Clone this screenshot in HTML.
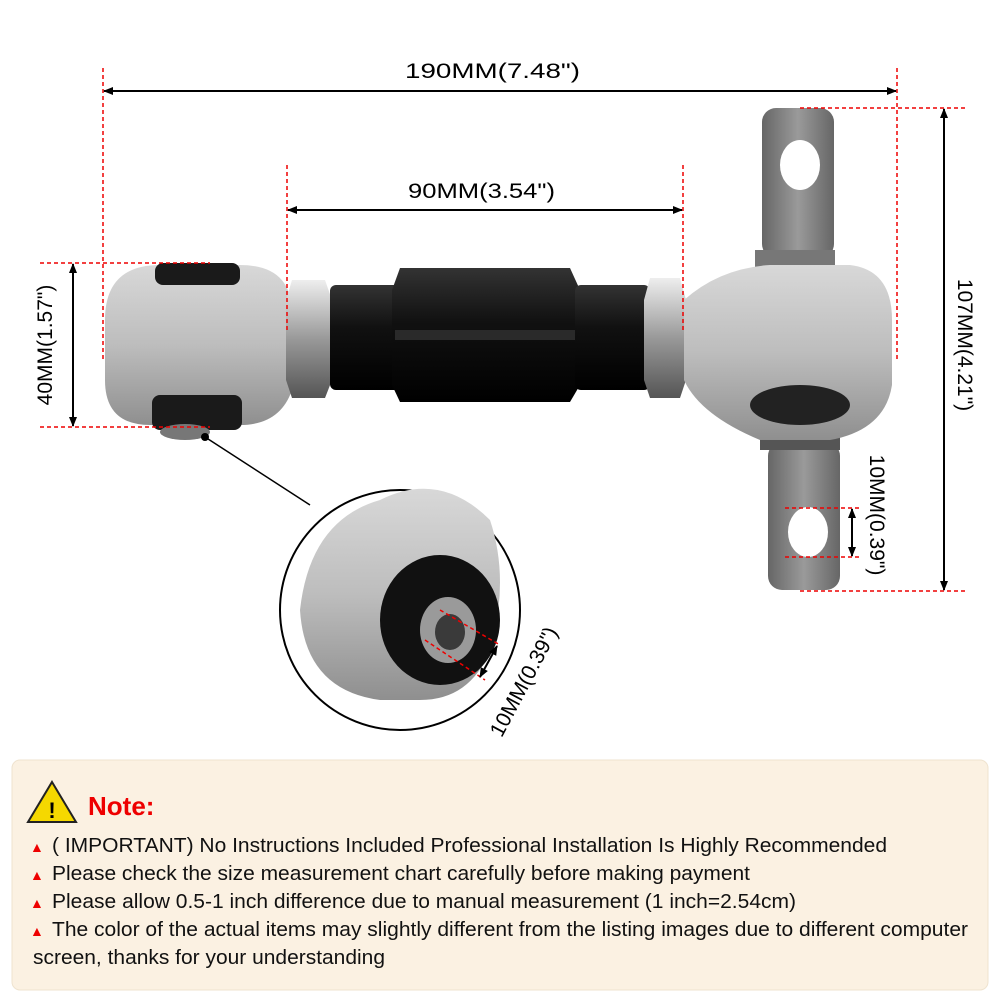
<!DOCTYPE html>
<html><head><meta charset="utf-8"><style>
html,body{margin:0;padding:0;background:#fff;}
svg{display:block;font-family:"Liberation Sans",Arial,sans-serif;}
</style></head><body>
<svg width="1000" height="1000" viewBox="0 0 1000 1000" xmlns="http://www.w3.org/2000/svg">
<defs>
<linearGradient id="al" x1="0" y1="0" x2="0" y2="1"><stop offset="0" stop-color="#d8d8d8"/><stop offset=".5" stop-color="#bdbdbd"/><stop offset="1" stop-color="#8f8f8f"/></linearGradient>
<linearGradient id="blk" x1="0" y1="0" x2="0" y2="1"><stop offset="0" stop-color="#333"/><stop offset=".4" stop-color="#111"/><stop offset="1" stop-color="#000"/></linearGradient>
<linearGradient id="nut" x1="0" y1="0" x2="0" y2="1"><stop offset="0" stop-color="#eee"/><stop offset=".5" stop-color="#999"/><stop offset="1" stop-color="#555"/></linearGradient>
<linearGradient id="tab" x1="0" y1="0" x2="1" y2="0"><stop offset="0" stop-color="#666"/><stop offset=".5" stop-color="#9a9a9a"/><stop offset="1" stop-color="#666"/></linearGradient>
<marker id="ah" markerWidth="10" markerHeight="10" refX="9" refY="5" orient="auto-start-reverse" markerUnits="userSpaceOnUse"><path d="M0,1 L10,5 L0,9 z" fill="#000"/></marker>
</defs>

<rect x="762" y="108" width="72" height="150" rx="14" fill="url(#tab)"/>
<ellipse cx="800" cy="165" rx="20" ry="25" fill="#fff"/>
<rect x="768" y="442" width="72" height="148" rx="14" fill="url(#tab)"/>
<ellipse cx="808" cy="532" rx="20" ry="25" fill="#fff"/>
<rect x="755" y="250" width="80" height="22" fill="#777"/>
<rect x="760" y="425" width="80" height="25" fill="#555"/>

<path d="M105,320 Q105,265 160,265 L240,265 Q290,265 292,310 L292,390 Q280,425 240,425 L150,425 Q105,425 105,380 Z" fill="url(#al)"/>
<rect x="155" y="263" width="85" height="22" rx="8" fill="#1a1a1a"/>
<rect x="152" y="395" width="90" height="35" rx="8" fill="#1a1a1a"/>
<ellipse cx="185" cy="432" rx="25" ry="8" fill="#777"/>
<polygon points="292,280 325,280 332,300 332,380 325,398 292,398 286,380 286,300" fill="url(#nut)"/>
<rect x="330" y="285" width="75" height="105" rx="6" fill="url(#blk)"/>
<polygon points="400,268 570,268 580,290 580,385 570,402 400,402 392,385 392,290" fill="url(#blk)"/>
<rect x="395" y="330" width="180" height="10" fill="#2a2a2a"/>
<rect x="575" y="285" width="75" height="105" rx="6" fill="url(#blk)"/>
<polygon points="650,278 680,278 686,300 686,380 680,398 650,398 644,380 644,300" fill="url(#nut)"/>
<path d="M684,300 Q720,268 770,265 L850,265 Q892,270 892,320 L892,385 Q885,430 830,440 L760,440 Q700,415 684,380 Z" fill="url(#al)"/>
<ellipse cx="800" cy="405" rx="50" ry="20" fill="#222"/>

<line x1="205" y1="437" x2="310" y2="505" stroke="#000" stroke-width="1.5"/>
<circle cx="205" cy="437" r="4" fill="#000"/>
<circle cx="400" cy="610" r="120" fill="#fff" stroke="#000" stroke-width="2"/>
<path d="M300,610 Q310,520 380,500 Q440,470 490,520 Q510,580 490,650 Q470,700 420,700 L380,700 Q305,690 300,610 Z" fill="url(#al)"/>
<ellipse cx="440" cy="620" rx="60" ry="65" fill="#111"/>
<ellipse cx="448" cy="630" rx="28" ry="33" fill="#9a9a9a"/>
<ellipse cx="450" cy="632" rx="15" ry="18" fill="#3a3a3a"/>

<g stroke="#e00" stroke-width="1.5" stroke-dasharray="4,3" fill="none">
<line x1="103" y1="68" x2="103" y2="360"/>
<line x1="897" y1="68" x2="897" y2="360"/>
<line x1="287" y1="165" x2="287" y2="330"/>
<line x1="683" y1="165" x2="683" y2="330"/>
<line x1="40" y1="263" x2="210" y2="263"/>
<line x1="40" y1="427" x2="210" y2="427"/>
<line x1="800" y1="108" x2="965" y2="108"/>
<line x1="800" y1="591" x2="965" y2="591"/>
<line x1="785" y1="508" x2="860" y2="508"/>
<line x1="785" y1="557" x2="860" y2="557"/>
<line x1="440" y1="610" x2="500" y2="645"/>
<line x1="425" y1="640" x2="485" y2="680"/>
</g>
<g stroke="#000" stroke-width="2" marker-start="url(#ah)" marker-end="url(#ah)">
<line x1="104" y1="91" x2="896" y2="91"/>
<line x1="288" y1="210" x2="682" y2="210"/>
<line x1="73" y1="264" x2="73" y2="426"/>
<line x1="944" y1="109" x2="944" y2="590"/>
<line x1="852" y1="509" x2="852" y2="556"/>
<line x1="497" y1="646" x2="480" y2="677"/>
</g>
<g font-size="21" fill="#000">
<text x="405" y="78" textLength="175" lengthAdjust="spacingAndGlyphs">190MM(7.48")</text>
<text x="408" y="198" textLength="147" lengthAdjust="spacingAndGlyphs">90MM(3.54")</text>
<text transform="translate(52,345) rotate(-90)" text-anchor="middle">40MM(1.57")</text>
<text transform="translate(958,345) rotate(90)" text-anchor="middle">107MM(4.21")</text>
<text transform="translate(870,515) rotate(90)" text-anchor="middle">10MM(0.39")</text>
<text transform="translate(530,685) rotate(-62)" text-anchor="middle">10MM(0.39")</text>
</g>

<rect x="12" y="760" width="976" height="230" rx="8" fill="#fbf1e2" stroke="#efe3cf"/>
<polygon points="52,782 76,822 28,822" fill="#f5d800" stroke="#222" stroke-width="2"/>
<text x="52" y="818" font-size="22" font-weight="bold" text-anchor="middle">!</text>
<text x="88" y="815" font-size="26" font-weight="bold" fill="#e00">Note:</text>
<g font-size="20" fill="#111">
<text x="30" y="852" fill="#e00" font-size="14">▲</text>
<text x="52" y="852" textLength="835" lengthAdjust="spacingAndGlyphs">( IMPORTANT) No Instructions Included Professional Installation Is Highly Recommended</text>
<text x="30" y="880" fill="#e00" font-size="14">▲</text>
<text x="52" y="880" textLength="698" lengthAdjust="spacingAndGlyphs">Please check the size measurement chart carefully before making payment</text>
<text x="30" y="908" fill="#e00" font-size="14">▲</text>
<text x="52" y="908" textLength="744" lengthAdjust="spacingAndGlyphs">Please allow 0.5-1 inch difference due to manual measurement (1 inch=2.54cm)</text>
<text x="30" y="936" fill="#e00" font-size="14">▲</text>
<text x="52" y="936" textLength="916" lengthAdjust="spacingAndGlyphs">The color of the actual items may slightly different from the listing images due to different computer</text>
<text x="33" y="964" textLength="352" lengthAdjust="spacingAndGlyphs">screen, thanks for your understanding</text>
</g>
</svg>
</body></html>
